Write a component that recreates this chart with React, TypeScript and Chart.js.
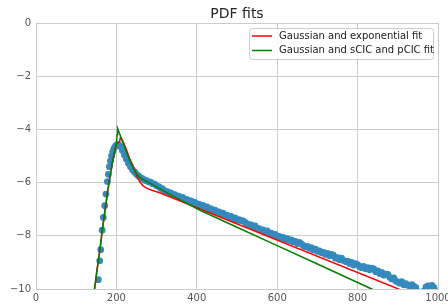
import { useEffect, useRef } from 'react';
import { Chart, registerables } from 'chart.js';

Chart.register(...registerables);

const titleText = 'PDF fits';
const legendLabels = ['Gaussian and exponential fit', 'Gaussian and sCIC and pCIC fit'];
const legendColors = ['#ff0000', '#008000'];

const xTickValues = [0, 200, 400, 600, 800, 1000];
const yTickValues = [0, -2, -4, -6, -8, -10];

const histX = [
  155, 158.5, 161, 164.5, 167.5, 171, 174, 177.5, 180, 182.5, 185, 188, 191, 194, 198, 202,
  205, 210, 215, 220, 225, 230, 235, 240, 245, 250, 255, 260, 265, 270, 275, 280, 285, 290, 295, 300,
  305, 310, 315, 320, 325, 330, 335, 340, 345, 350, 355, 360, 365, 370, 375, 380, 385, 390, 395, 400,
  405, 410, 415, 420, 425, 430, 435, 440, 445, 450, 455, 460, 465, 470, 475, 480, 485, 490, 495, 500,
  505, 510, 515, 520, 525, 530, 535, 540, 545, 550, 555, 560, 565, 570, 575, 580, 585, 590, 595, 600,
  605, 610, 615, 620, 625, 630, 635, 640, 645, 650, 655, 660, 665, 670, 675, 680, 685, 690, 695, 700,
  705, 710, 715, 720, 725, 730, 735, 740, 745, 750, 755, 760, 765, 770, 775, 780, 785, 790, 795, 800,
  805, 810, 815, 820, 825, 830, 835, 840, 845, 850, 855, 860, 865, 870, 875, 880, 885, 890, 895, 900,
  905, 910, 915, 920, 925, 930, 935, 940, 945, 950, 955, 960, 965, 970, 975, 980, 985, 990, 995, 1000,
];
const histY = [
  -9.65, -8.94, -8.52, -7.79, -7.31, -6.87, -6.43, -5.96, -5.69, -5.40, -5.19, -5.00, -4.84, -4.71, -4.62, -4.57,
  -4.56, -4.64, -4.79, -4.96, -5.12, -5.27, -5.40, -5.52, -5.60, -5.69, -5.75, -5.81, -5.85, -5.91, -5.93, -5.97, -5.98, -6.04, -6.06, -6.12,
  -6.15, -6.21, -6.24, -6.31, -6.33, -6.38, -6.39, -6.44, -6.45, -6.50, -6.51, -6.56, -6.56, -6.62, -6.63, -6.68, -6.69, -6.73, -6.74, -6.80,
  -6.81, -6.86, -6.86, -6.92, -6.91, -6.98, -6.98, -7.05, -7.04, -7.10, -7.10, -7.17, -7.15, -7.22, -7.22, -7.29, -7.27, -7.35, -7.33, -7.41,
  -7.39, -7.43, -7.44, -7.50, -7.55, -7.58, -7.59, -7.66, -7.63, -7.72, -7.73, -7.79, -7.78, -7.85, -7.82, -7.91, -7.90, -7.97, -7.95, -8.04,
  -8.02, -8.09, -8.06, -8.14, -8.11, -8.18, -8.15, -8.23, -8.21, -8.29, -8.25, -8.30, -8.37, -8.41, -8.40, -8.47, -8.45, -8.53, -8.50, -8.58,
  -8.57, -8.64, -8.62, -8.70, -8.66, -8.75, -8.70, -8.74, -8.84, -8.82, -8.90, -8.84, -8.93, -8.97, -8.95, -9.04, -9.00, -9.10, -9.05, -9.08,
  -9.16, -9.20, -9.15, -9.24, -9.20, -9.28, -9.22, -9.24, -9.35, -9.32, -9.42, -9.38, -9.48, -9.44, -9.45, -9.56, -9.62, -9.58, -9.70, -9.74,
  -9.78, -9.72, -9.84, -9.80, -9.86, -9.88, -9.84, -9.90, -9.95, -10.10, -10.15, -10.20, -10.08, -9.93, -9.88, -9.90, -9.86, -9.95, -10.10, -10.20,
];

const expFitX = [140, 146, 152, 159, 165, 172, 178, 184, 190, 196.5, 200.5, 205, 208, 210, 213, 218, 225, 233, 242, 250, 258, 266, 275, 290, 308, 1000];
const expFitY = [-10.7, -9.97, -9.25, -8.53, -7.78, -7.03, -6.37, -5.78, -5.25, -4.77, -4.52, -4.5, -4.45, -4.3, -4.35, -4.5, -4.77, -5.1, -5.4, -5.72, -5.97, -6.12, -6.21, -6.3, -6.38, -10.6];

const cicFitX = [140, 146, 152, 159, 165, 172, 178, 184, 190, 196.5, 200.5, 201.5, 203, 215, 230, 242, 252, 263, 284, 340, 408, 500, 600, 700, 831, 860];
const cicFitY = [-10.75, -9.97, -9.27, -8.53, -7.77, -7.0, -6.35, -5.78, -5.25, -4.77, -4.52, -4.2, -3.96, -4.45, -5.05, -5.46, -5.7, -5.86, -6.03, -6.5, -7.04, -7.68, -8.37, -9.06, -9.97, -10.17];

const FONT = '"DejaVu Sans", sans-serif';

const zip = (xs: number[], ys: number[]) => xs.map((x, i) => ({ x, y: ys[i] }));
const fmt = (v: number) => (v < 0 ? '\u2212' + Math.abs(v) : String(v));

export default function App() {
  const ref = useRef<HTMLCanvasElement>(null);

  useEffect(() => {
    const canvas = ref.current;
    if (!canvas) return;

    const overlay = {
      id: 'overlay',
      afterDraw(chart: any) {
        const ctx = chart.ctx as CanvasRenderingContext2D;
        const a = chart.chartArea;
        ctx.save();
        ctx.fillStyle = '#262626';
        ctx.font = `14px ${FONT}`;
        ctx.textAlign = 'center';
        ctx.textBaseline = 'alphabetic';
        ctx.fillText(titleText, (a.left + a.right) / 2, 17.5);

        const bw = 184;
        const bh = 31;
        const bx = Math.round(a.right - 5 - bw) + 0.5;
        const by = Math.round(a.top + 5) + 0.5;
        ctx.beginPath();
        (ctx as any).roundRect(bx, by, bw, bh, 3);
        ctx.fillStyle = 'rgba(255,255,255,0.85)';
        ctx.fill();
        ctx.strokeStyle = '#cccccc';
        ctx.lineWidth = 1;
        ctx.stroke();

        ctx.font = `10px ${FONT}`;
        ctx.textAlign = 'left';
        ctx.textBaseline = 'middle';
        legendLabels.forEach((label, i) => {
          const y = by + 7.5 + i * 14.5;
          ctx.beginPath();
          ctx.moveTo(bx + 2.5, y);
          ctx.lineTo(bx + 22.5, y);
          ctx.strokeStyle = legendColors[i];
          ctx.lineWidth = 1.5;
          ctx.stroke();
          ctx.fillStyle = '#1a1a1a';
          ctx.fillText(label, bx + 29.5, y);
        });
        ctx.restore();
      },
    };

    const chart = new Chart(canvas, {
      type: 'scatter',
      data: {
        datasets: [
          {
            label: legendLabels[1],
            data: zip(cicFitX, cicFitY),
            showLine: true,
            borderColor: legendColors[1],
            borderWidth: 1.5,
            pointRadius: 0,
            tension: 0,
            order: 1,
          },
          {
            label: legendLabels[0],
            data: zip(expFitX, expFitY),
            showLine: true,
            borderColor: legendColors[0],
            borderWidth: 1.5,
            pointRadius: 0,
            tension: 0,
            order: 2,
          },
          {
            label: 'data',
            data: zip(histX, histY),
            showLine: false,
            pointRadius: 3.4,
            pointBorderWidth: 0,
            backgroundColor: '#348abd',
            borderColor: '#348abd',
            order: 3,
          },
        ],
      },
      options: {
        animation: false,
        responsive: false,
        devicePixelRatio: 1,
        events: [],
        layout: { padding: { top: 23, right: 10, left: 0, bottom: 0 } },
        plugins: {
          legend: { display: false },
          tooltip: { enabled: false },
          title: { display: false },
        },
        scales: {
          x: {
            type: 'linear',
            min: 0,
            max: 1000,
            afterBuildTicks: (scale: any) => {
              scale.ticks = xTickValues.map((v) => ({ value: v }));
            },
            afterFit: (scale: any) => {
              scale.height = 18;
              scale.paddingLeft = 0;
              scale.paddingRight = 0;
            },
            ticks: {
              autoSkip: false,
              maxRotation: 0,
              padding: 3,
              color: '#555555',
              font: { family: FONT, size: 10 },
              callback: (v: any) => fmt(Number(v)),
            },
            grid: { color: '#cccccc', lineWidth: 1, drawTicks: false },
            border: { color: '#cccccc', width: 1 },
          },
          y: {
            type: 'linear',
            min: -10,
            max: 0,
            afterBuildTicks: (scale: any) => {
              scale.ticks = yTickValues.map((v) => ({ value: v }));
            },
            afterFit: (scale: any) => {
              scale.width = 36;
            },
            ticks: {
              autoSkip: false,
              padding: 5,
              color: '#555555',
              font: { family: FONT, size: 10 },
              callback: (v: any) => fmt(Number(v)),
            },
            grid: { color: '#cccccc', lineWidth: 1, drawTicks: false },
            border: { color: '#cccccc', width: 1 },
          },
        },
      },
      plugins: [overlay],
    });

    return () => chart.destroy();
  }, []);

  return (
    <div style={{ position: 'fixed', left: 0, top: 0, width: 448, height: 307, background: '#ffffff' }}>
      <canvas ref={ref} width={448} height={307} style={{ display: 'block', width: 448, height: 307 }} />
    </div>
  );
}
